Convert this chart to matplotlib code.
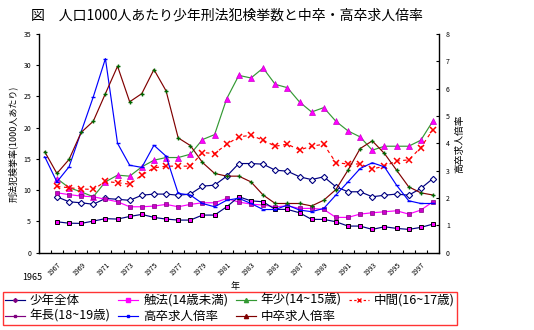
import numpy as np
import matplotlib.pyplot as plt
from matplotlib.lines import Line2D

plt.rcParams['font.family'] = ['Noto Sans CJK JP', 'DejaVu Sans']

years = list(range(1965, 1998))

# 少年刑法犯検挙率 (1000人あたり), 1966年から
shonen_zentai = [8.95, 8.15, 7.99, 7.75, 8.68, 8.55, 8.38, 9.2, 9.38, 9.38, 9.2, 9.38, 10.65, 10.81, 12.25, 14.27,
                 14.27, 14.17, 13.2, 13.05, 12.15, 11.7, 12.15, 10.55, 9.75, 9.75, 8.95, 9.2, 9.38, 9.2, 10.28, 11.87]
shokuho = [9.58, 9.3, 9.06, 8.95, 8.55, 8.15, 7.35, 7.35, 7.46, 7.73, 7.35, 7.73, 7.99, 7.99, 8.68, 8.1,
           7.78, 7.62, 7.35, 7.5, 7.09, 7.09, 6.93, 5.65, 5.65, 6.18, 6.39, 6.55, 6.71, 6.18, 6.82, 8.15]
nensho = [11.87, 10.4, 9.74, 8.95, 11.34, 12.41, 12.25, 13.74, 14.8, 15.23, 15.23, 15.76, 18.1, 18.9, 24.65, 28.38,
          27.96, 29.55, 26.94, 26.41, 24.12, 22.52, 23.22, 21.03, 19.49, 18.53, 16.4, 17.04, 17.04, 17.04, 18.0, 21.09]
chukan = [10.6, 10.4, 10.2, 10.12, 11.4, 11.2, 10.97, 12.41, 13.58, 13.85, 13.85, 13.85, 16.03, 15.87, 17.36, 18.53,
          18.8, 18.0, 17.04, 17.36, 16.45, 17.04, 17.36, 14.4, 14.2, 14.2, 13.4, 13.85, 14.68, 14.85, 16.82, 19.7]
nencho = [4.95, 4.72, 4.69, 5.06, 5.45, 5.38, 5.8, 6.13, 5.65, 5.38, 5.22, 5.22, 6.02, 6.02, 7.35, 8.95,
          8.3, 8.15, 6.93, 6.93, 6.39, 5.33, 5.33, 4.95, 4.26, 4.26, 3.73, 4.15, 3.89, 3.73, 4.05, 4.58]

# 求人倍率, 1965年から
kosotsu = [3.51, 2.59, 3.14, 4.42, 5.7, 7.1, 4.0, 3.2, 3.12, 3.93, 3.53, 2.17, 2.11, 1.8, 1.68, 1.92, 1.99,
           1.8, 1.58, 1.58, 1.74, 1.56, 1.5, 1.62, 2.11, 2.59, 3.08, 3.29, 3.14, 2.47, 1.9, 1.8, 1.8]
chusotsu = [3.69, 2.9, 3.41, 4.4, 4.81, 5.82, 6.82, 5.52, 5.82, 6.7, 5.92, 4.2, 3.92, 3.3, 2.9, 2.8, 2.8,
            2.59, 2.11, 1.8, 1.8, 1.8, 1.71, 1.92, 2.31, 3.02, 3.81, 4.09, 3.63, 3.02, 2.41, 2.19, 2.11]

x_all = np.arange(len(years))
x_crime = x_all[1:]

fig = plt.figure(figsize=(5.34, 3.30), dpi=100)
ax = fig.add_axes([38.7 / 534, 1 - 252.7 / 330, (439 - 38.7) / 534, (252.7 - 34) / 330])
ax2 = ax.twinx()

lw = 0.85
ax.plot(x_crime, nensho, color='#339933', lw=lw, marker='^', ms=4.5, mfc='#ff00ff', mec='#cc00cc', mew=0.5)
ax.plot(x_crime, chukan, color='#ff0000', lw=lw, ls=(0, (3, 3)), marker='x', ms=4, mew=1.1, mec='#ff0000')
ax.plot(x_crime, shonen_zentai, color='#000080', lw=lw, marker='D', ms=3.2, mfc='white', mec='#000080', mew=0.8)
ax.plot(x_crime, shokuho, color='#ff00ff', lw=lw, marker='s', ms=2.5, mfc='#cc00cc', mec='#800080', mew=0.5)
ax.plot(x_crime, nencho, color='#000080', lw=lw, marker='s', ms=3.5, mfc='#ff00ff', mec='#000000', mew=0.7)

ax2.plot(x_all, kosotsu, color='#0000ff', lw=lw, marker='_', ms=3, mec='#0000ff')
ax2.plot(x_all, chusotsu, color='#800000', lw=lw, marker='+', ms=3.5, mec='#006600', mew=1.0)

ax.set_xlim(-0.5, len(years) - 0.5)
ax.set_ylim(0, 35)
ax2.set_ylim(0, 8)
ax.set_yticks(np.arange(0, 36, 5))
ax2.set_yticks(np.arange(0, 9, 1))

# category axis: ticks on boundaries, labels every second year
bounds = np.arange(-0.5, len(years), 1.0)
labels = []
for b in bounds:
    yr = 1965 + int(b + 0.5)
    labels.append(str(yr) if (yr % 2 == 1 and 1967 <= yr <= 1997) else '')
ax.set_xticks(bounds)
ax.set_xticklabels(labels, rotation=45, ha='right', fontsize=5)
ax.tick_params(axis='x', direction='in', length=2.5, width=0.8, pad=6)
ax.tick_params(axis='y', direction='out', length=2.5, width=0.8, labelsize=5, pad=3)
ax2.tick_params(axis='y', direction='in', length=2.5, width=0.8, labelsize=5, pad=5)

for a in (ax, ax2):
    a.spines['top'].set_visible(False)
    for s in a.spines.values():
        s.set_linewidth(1.0)
ax.spines['right'].set_visible(False)
ax2.spines['left'].set_visible(False)
ax2.spines['bottom'].set_visible(False)

ax.set_ylabel('刑法犯検挙率(1000人あたり)', fontsize=6.5, labelpad=4)
ax2.set_ylabel('高卒求人倍率', fontsize=7, labelpad=3)

fig.text(32 / 534, 1 - 278 / 330, '1965', fontsize=6.5, ha='center', va='center')
fig.text(235 / 534, 1 - 286 / 330, '年', fontsize=6.5, ha='center', va='center')

fig.text(227 / 534, 1 - 16 / 330, '図　人口1000人あたり少年刑法犯検挙数と中卒・高卒求人倍率',
         fontsize=10, ha='center', va='center')

handles = [
    Line2D([], [], color='#000080', lw=lw, marker='D', ms=2, mfc='#800080', mec='#800080'),
    Line2D([], [], color='#800080', lw=lw, marker='s', ms=2, mfc='#800080', mec='#800080'),
    Line2D([], [], color='#ff00ff', lw=lw, marker='s', ms=2.5, mfc='#ff00ff', mec='#ff00ff'),
    Line2D([], [], color='#0000ff', lw=lw, marker='s', ms=2, mfc='#0000ff', mec='#0000ff'),
    Line2D([], [], color='#339933', lw=lw, marker='^', ms=3, mfc='#339933', mec='#339933'),
    Line2D([], [], color='#800000', lw=lw, marker='^', ms=3, mfc='#800000', mec='#800000'),
    Line2D([], [], color='#ff0000', lw=lw, ls=(0, (2, 2)), marker='x', ms=3, mec='#ff0000'),
]
names = ['少年全体', '年長(18~19歳)', '触法(14歳未満)', '高卒求人倍率',
         '年少(14~15歳)', '中卒求人倍率', '中間(16~17歳)']
leg = fig.legend(handles, names, loc='upper left', bbox_to_anchor=(3 / 534, 1 - 292 / 330),
                 ncol=4, fontsize=9, frameon=True, fancybox=False, borderpad=0.15,
                 handlelength=1.6, handletextpad=0.4, columnspacing=0.6, labelspacing=0.25,
                 borderaxespad=0)
leg.get_frame().set_edgecolor('#ff0000')
leg.get_frame().set_linewidth(1.0)

fig.savefig('out.png', dpi=100)
